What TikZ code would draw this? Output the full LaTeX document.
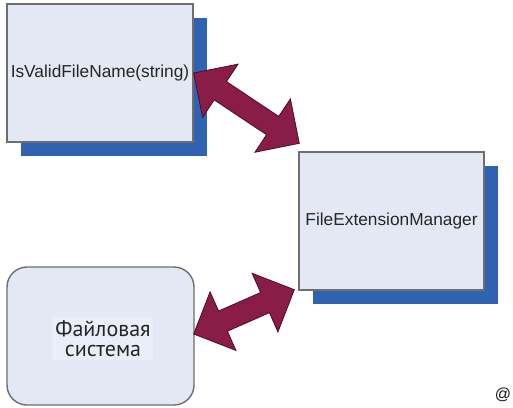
\documentclass[tikz,border=0pt]{standalone}
\usepackage{fontspec}
\setmainfont{Liberation Sans}
\newfontfamily\cyrfont{PT Sans}
\usetikzlibrary{calc,shadows}

\definecolor{boxfill}{HTML}{E3E8F4}
\definecolor{textfill}{HTML}{E9EEF8}
\definecolor{boxline}{HTML}{6E6E6E}
\definecolor{shadowblue}{HTML}{2F63B2}
\definecolor{arrowfill}{HTML}{8A1C48}
\definecolor{arrowline}{HTML}{4E0B27}

\tikzset{
  classbox/.style={draw=boxline, line width=1.4pt, fill=boxfill,
    minimum width=186pt, minimum height=138pt, inner sep=0pt,
    font=\fontsize{17.3}{20}\selectfont, text=black!85,
    general shadow={fill=shadowblue, shadow xshift=14pt, shadow yshift=-14pt}},
  storebox/.style={draw=boxline, line width=1.4pt, fill=boxfill,
    rounded corners=20pt, minimum width=187pt, minimum height=138pt, inner sep=0pt},
  storelabel/.style={fill=textfill, align=center, inner sep=0pt,
    minimum width=100pt, minimum height=43pt,
    font=\cyrfont\fontsize{22}{20.5}\selectfont, text=black!85},
  bigarrow/.style={fill=arrowfill, draw=arrowline, line width=0.8pt, line join=miter}
}

% Double-headed block arrow between two named points:
% head length 32, head half-width 32, shaft half-width 11.
\newcommand\blockarrow[2]{%
  \coordinate (#1#2s) at ($(#1)!32pt!(#2)$);
  \coordinate (#1#2e) at ($(#2)!32pt!(#1)$);
  \draw[bigarrow] (#1)
    -- ($(#1#2s)!32pt!90:(#2)$) -- ($(#1#2s)!11pt!90:(#2)$)
    -- ($(#1#2e)!11pt!-90:(#1)$) -- ($(#1#2e)!32pt!-90:(#1)$)
    -- (#2)
    -- ($(#1#2e)!32pt!90:(#1)$) -- ($(#1#2e)!11pt!90:(#1)$)
    -- ($(#1#2s)!11pt!-90:(#2)$) -- ($(#1#2s)!32pt!-90:(#2)$)
    -- cycle;%
}

\begin{document}
\begin{tikzpicture}[x=1pt, y=-1pt]
  \useasboundingbox[fill=white] (0,0) rectangle (513,407);

  % classes
  \node[classbox] (valid) at (100,73) {\raisebox{-3pt}{IsValidFileName(string)}};
  \node[classbox, minimum width=185pt] (manager) at (391.5,221) {FileExtensionManager};

  % file system
  \node[storebox] (fs) at (100.5,336) {};
  \node[storelabel] (fslabel) at (103,338.5) {Файловая\\система};

  % arrow end points
  \coordinate (a1) at (valid.east);
  \coordinate (a2) at ($(manager.north west)+(1,-8)$);
  \coordinate (b1) at ($(fs.east)+(-1,-2)$);
  \coordinate (b2) at ($(manager.south west)+(-4,-1)$);

  \blockarrow{a1}{a2}
  \blockarrow{b1}{b2}

  \node[font=\fontsize{16}{18}\selectfont, text=black!90, inner sep=0pt] (at) at (503,395) {@};
\end{tikzpicture}
\end{document}
